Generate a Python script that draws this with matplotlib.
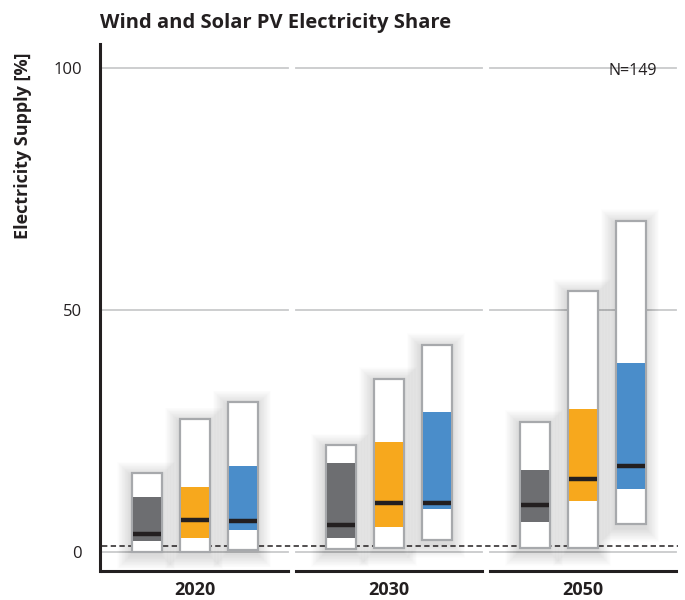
import matplotlib
matplotlib.use("Agg")
import matplotlib.pyplot as plt
import matplotlib.patches as patches

plt.rcParams['font.family'] = ['Open Sans', 'DejaVu Sans']

# data (percent of electricity supply)
years = ["2020", "2030", "2050"]
colors = ["#6d6e71", "#f7a81d", "#4a8dca"]

gray_min = [0.0, 0.5, 0.7]
gray_q1 = [2.2, 2.8, 6.1]
gray_med = [3.7, 5.6, 9.6]
gray_q3 = [11.4, 18.4, 16.9]
gray_max = [16.2, 22.0, 26.9]

orange_min = [0.0, 0.7, 0.7]
orange_q1 = [2.9, 5.2, 10.5]
orange_med = [6.5, 10.1, 15.1]
orange_q3 = [13.4, 22.7, 29.6]
orange_max = [27.4, 35.8, 53.9]

blue_min = [0.35, 2.4, 5.7]
blue_q1 = [4.5, 8.8, 13.0]
blue_med = [6.3, 10.1, 17.8]
blue_q3 = [17.7, 28.9, 39.1]
blue_max = [30.9, 42.8, 68.4]

series = [
    (gray_min, gray_q1, gray_med, gray_q3, gray_max),
    (orange_min, orange_q1, orange_med, orange_q3, orange_max),
    (blue_min, blue_q1, blue_med, blue_q3, blue_max),
]
yticks = [0, 50, 100]
ref_line = 1.2
n_label = "N=149"

fig = plt.figure(figsize=(6.85, 6.0), dpi=100)
ax = fig.add_axes([0.146, 0.0483, 0.844, 0.8787])
ax.set_xlim(-0.49, 2.49)
ax.set_ylim(-4, 105)

# pixel -> data conversions for the shadow
px_x = 2.98 / (0.844 * 685)
px_y = 109 / (0.8787 * 600)

offsets = [-0.247, 0.0, 0.247]
w = 0.155
seg = 0.48

for i in range(len(years)):
    for y in yticks:
        ax.plot([i - seg, i + seg], [y, y], color="#c9cacc", lw=1.3, zorder=0)
    ax.plot([i - seg, i + seg], [-4, -4], color="#231f20", lw=2.2, zorder=5, clip_on=False)

ax.axhline(ref_line, xmin=0.003, color="#231f20", lw=1.1, ls=(0, (3.5, 2.2)), zorder=2.5)

for i in range(len(years)):
    for j, (mn, q1, med, q3, mx) in enumerate(series):
        x = i + offsets[j]
        # soft shadow, a bit to the left and below
        for k in range(18, 0, -1):
            pad = k * 0.75
            ax.add_patch(patches.Rectangle(
                (x - w / 2 - (pad + 1.5) * px_x, mn[i] - (pad + 4) * px_y),
                w + (2 * pad + 1) * px_x, mx[i] - mn[i] + (2 * pad + 2) * px_y,
                facecolor="black", edgecolor="none", alpha=0.008, zorder=2))
        ax.add_patch(patches.Rectangle((x - w / 2, mn[i]), w, mx[i] - mn[i],
                                       facecolor="white", edgecolor="#a7a9ac", lw=1.6, zorder=3))
        ax.add_patch(patches.Rectangle((x - w / 2 + 1.2 * px_x, q1[i]), w - 2.4 * px_x, q3[i] - q1[i],
                                       facecolor=colors[j], edgecolor="none", zorder=4))
        ax.plot([x - w / 2 + 1.2 * px_x, x + w / 2 - 1.2 * px_x], [med[i], med[i]],
                color="#231f20", lw=3.2, solid_capstyle="butt", zorder=5)

for s in ["top", "right", "bottom"]:
    ax.spines[s].set_visible(False)
ax.spines["left"].set_color("#231f20")
ax.spines["left"].set_linewidth(2.2)

ax.set_yticks(yticks)
ax.set_yticklabels([str(t) for t in yticks], fontsize=12, color="#231f20")
ax.tick_params(axis="y", length=0, pad=13)
ax.set_xticks(range(len(years)))
ax.set_xticklabels(years, fontsize=13, fontweight="bold", color="#231f20")
ax.tick_params(axis="x", length=0, pad=7)

ax.text(2.255, 99.3, n_label, ha="center", va="center", fontsize=11.5, color="#231f20", zorder=6)

fig.text(0.146, 1 - 28 / 600, "Wind and Solar PV Electricity Share", fontsize=14.5,
         fontweight="bold", color="#231f20", ha="left", va="baseline")
fig.text(23 / 685, 1 - 146 / 600, "Electricity Supply [%]", fontsize=13, fontweight="bold",
         color="#231f20", rotation=90, ha="center", va="center")

fig.savefig("out.png", dpi=100)
